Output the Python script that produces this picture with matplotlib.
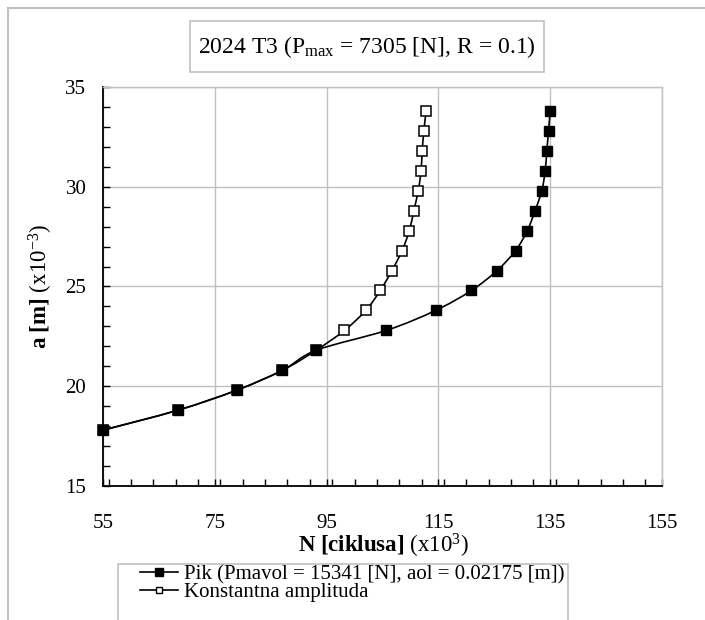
import matplotlib
matplotlib.use("Agg")
import matplotlib.pyplot as plt
import numpy as np
from matplotlib.path import Path
from matplotlib.patches import PathPatch, Rectangle
from matplotlib.lines import Line2D
from matplotlib.ticker import MultipleLocator

plt.rcParams['font.family'] = ['Liberation Serif', 'DejaVu Serif']
plt.rcParams['mathtext.fontset'] = 'custom'
plt.rcParams['mathtext.rm'] = 'Liberation Serif'
plt.rcParams['mathtext.it'] = 'Liberation Serif:italic'
plt.rcParams['mathtext.bf'] = 'Liberation Serif:bold'

# ---- data ----
pik_N = [55.0, 68.4, 78.9, 87.1, 93.1, 105.7, 114.5, 120.9, 125.5, 128.8,
         130.9, 132.3, 133.5, 134.1, 134.4, 134.7, 135.0]
pik_a = [17.8, 18.8, 19.8, 20.8, 21.8, 22.8, 23.8, 24.8, 25.8, 26.8,
         27.8, 28.8, 29.8, 30.8, 31.8, 32.8, 33.8]
ka_N = [55.0, 68.4, 78.9, 87.1, 93.1, 98.2, 102.0, 104.6, 106.7, 108.5,
        109.8, 110.6, 111.4, 111.9, 112.1, 112.4, 112.8]
ka_a = [17.8, 18.8, 19.8, 20.8, 21.8, 22.8, 23.8, 24.8, 25.8, 26.8,
        27.8, 28.8, 29.8, 30.8, 31.8, 32.8, 33.8]
x_ticks = [55, 75, 95, 115, 135, 155]
y_ticks = [15, 20, 25, 30, 35]
label_pik = "Pik (Pmavol = 15341 [N], aol = 0.02175 [m])"
label_ka = "Konstantna amplituda"
title = r"2024 T3 (P$_{\mathrm{max}}$ = 7305 [N], R = 0.1)"

W, H = 705, 620
fig = plt.figure(figsize=(W / 100, H / 100), dpi=100)

def fx(px):
    return px / W

def fy(py):
    return 1 - py / H

# outer chart frame
fig.patches.append(Rectangle((fx(8), fy(700)), fx(800), fy(8) - fy(700),
                             transform=fig.transFigure, fill=False,
                             edgecolor='#c0c0c0', linewidth=1.5))

ax = fig.add_axes([fx(103), fy(486), fx(662) - fx(103), fy(87) - fy(486)])
ax.set_xlim(55, 155)
ax.set_ylim(15, 35)
ax.set_xticks(x_ticks)
ax.set_yticks(y_ticks)
ax.xaxis.set_minor_locator(MultipleLocator(4))
ax.yaxis.set_minor_locator(MultipleLocator(1))
ax.tick_params(which='both', direction='in', length=5, width=1, color='black',
               top=False, right=False)
ax.tick_params(axis='y', labelsize=15, pad=12)
ax.tick_params(axis='x', labelsize=15, pad=20)
ax.grid(True, which='major', color='#c0c0c0', linewidth=1)
ax.set_axisbelow(True)
for s in ['top', 'right']:
    ax.spines[s].set_color('#c0c0c0')
    ax.spines[s].set_linewidth(1)
for s in ['left', 'bottom']:
    ax.spines[s].set_color('black')
    ax.spines[s].set_linewidth(1.3)

fig.canvas.draw()

def smooth_path(xs, ys):
    pts = ax.transData.transform(np.column_stack([xs, ys]))
    n = len(pts)
    verts = [pts[0]]
    codes = [Path.MOVETO]
    for i in range(n - 1):
        p0 = pts[i - 1] if i > 0 else pts[i]
        p1 = pts[i]
        p2 = pts[i + 1]
        p3 = pts[i + 2] if i + 2 < n else pts[i + 1]
        c1 = p1 + (p2 - p0) / 6.0
        c2 = p2 - (p3 - p1) / 6.0
        verts += [c1, c2, p2]
        codes += [Path.CURVE4] * 3
    verts = ax.transData.inverted().transform(np.array(verts))
    return Path(verts, codes)

for xs, ys in [(ka_N, ka_a), (pik_N, pik_a)]:
    ax.add_patch(PathPatch(smooth_path(xs, ys), fill=False, edgecolor='black',
                           linewidth=1.2, zorder=3))

ax.plot(ka_N, ka_a, linestyle='none', marker='s', markersize=6.5,
        markerfacecolor='white', markeredgecolor='black', markeredgewidth=1.1,
        zorder=4, clip_on=False)
ax.plot(pik_N, pik_a, linestyle='none', marker='s', markersize=7.5,
        markerfacecolor='black', markeredgecolor='black', zorder=5,
        clip_on=False)

# axis labels
fig.text(fx(41), fy(286), r"$\mathbf{a\ [m]}$ (x10$^{-3}$)", rotation=90,
         ha='center', va='center', fontsize=16.5)
fig.text(fx(383), fy(546), r"$\mathbf{N\ [ciklusa]}$ (x10$^{3}$)",
         ha='center', va='center', fontsize=16.5)

# title box
fig.patches.append(Rectangle((fx(190), fy(72)), fx(544) - fx(190), fy(21) - fy(72),
                             transform=fig.transFigure, fill=False,
                             edgecolor='#c0c0c0', linewidth=1.2))
fig.text(fx(367), fy(47), title, ha='center', va='center', fontsize=17)

# legend box
fig.patches.append(Rectangle((fx(118), fy(700)), fx(568) - fx(118), fy(564) - fy(700),
                             transform=fig.transFigure, fill=False,
                             edgecolor='#c0c0c0', linewidth=1.2))
h1 = Line2D([], [], color='black', linewidth=1.2, marker='s', markersize=6,
            markerfacecolor='black', markeredgecolor='black')
h2 = Line2D([], [], color='black', linewidth=1.2, marker='s', markersize=5,
            markerfacecolor='white', markeredgecolor='black')
leg = fig.legend([h1, h2], [label_pik, label_ka], loc='upper left',
                 bbox_to_anchor=(fx(140), fy(565)), frameon=False, fontsize=15,
                 handlelength=1.8, handletextpad=0.3, labelspacing=-0.08,
                 borderpad=0, borderaxespad=0)

fig.savefig("out.png", dpi=100)
